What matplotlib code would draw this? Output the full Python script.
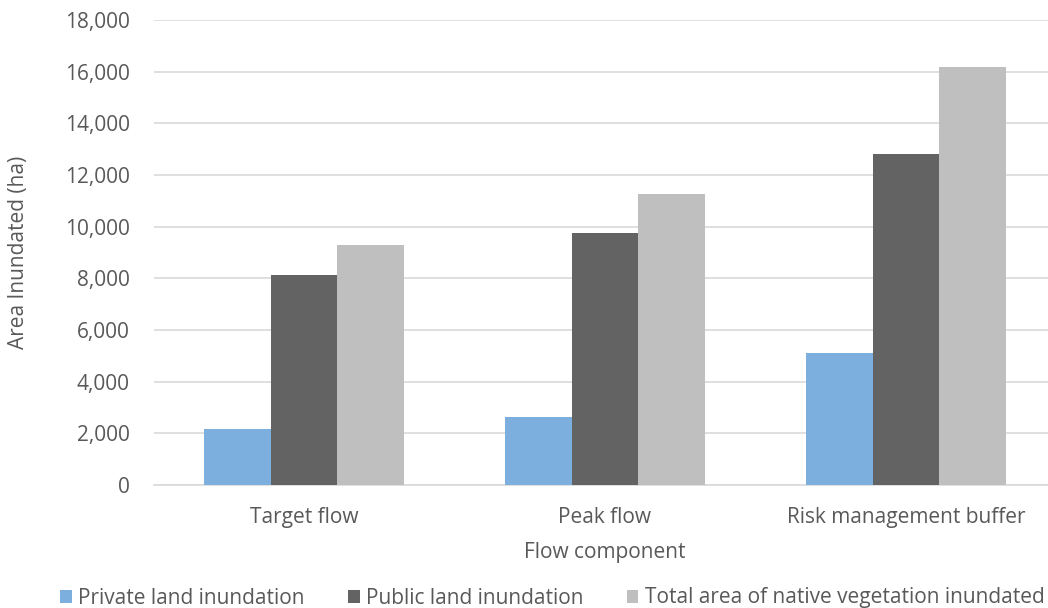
import numpy as np
import matplotlib
matplotlib.use("Agg")
import matplotlib.pyplot as plt
from matplotlib.ticker import FuncFormatter

categories = ["Target flow", "Peak flow", "Risk management buffer"]
series_names = ["Private land inundation", "Public land inundation",
                "Total area of native vegetation inundated"]
private_land = [2170, 2630, 5110]
public_land = [8130, 9760, 12810]
total_native = [9290, 11270, 16180]
colors = ["#7CAFDD", "#636363", "#BFBFBF"]

plt.rcParams['font.family'] = ['Open Sans', 'DejaVu Sans']
text_col = "#595959"

fig = plt.figure(figsize=(10.48, 6.08), dpi=100)
# plot area runs past the right edge, as in the cropped original
ax_left, ax_right = 153.5, 1056.5
ax = fig.add_axes([ax_left/1048, 1 - 485/608, (ax_right - ax_left)/1048, (485 - 20)/608])

x = np.arange(len(categories))
w = 0.222
for i, (vals, name, c) in enumerate(zip([private_land, public_land, total_native], series_names, colors)):
    ax.bar(x + (i - 1) * w, vals, width=w, color=c, label=name, zorder=3)

ax.set_xlim(-0.5, 2.5)
ax.set_ylim(0, 18000)
ax.set_yticks(np.arange(0, 18001, 2000))
ax.yaxis.set_major_formatter(FuncFormatter(lambda v, p: f"{int(v):,}"))
ax.set_xticks(x)
ax.set_xticklabels(categories)
ax.grid(axis='y', color="#D9D9D9", linewidth=1.2, zorder=0)
for s in ["top", "right", "left"]:
    ax.spines[s].set_visible(False)
ax.spines["bottom"].set_color("#D9D9D9")
ax.spines["bottom"].set_linewidth(1.2)
ax.tick_params(axis='both', length=0, labelsize=15, colors=text_col)
ax.tick_params(axis='y', pad=17)
ax.tick_params(axis='x', pad=16)

ax.set_xlabel("Flow component", fontsize=15, color=text_col, labelpad=10)
ax.set_ylabel("Area Inundated (ha)", fontsize=15, color=text_col, va='center')
ax.yaxis.set_label_coords((18 - ax_left) / (ax_right - ax_left), 0.5)

fig.legend(loc='center left', bbox_to_anchor=(60/1048, 1 - 598/608), ncol=3,
           frameon=False, fontsize=15, handlelength=0.57, handleheight=0.57,
           handletextpad=0.3, columnspacing=2.07, borderpad=0, borderaxespad=0,
           labelcolor=text_col)

fig.savefig("out.png", dpi=100)
